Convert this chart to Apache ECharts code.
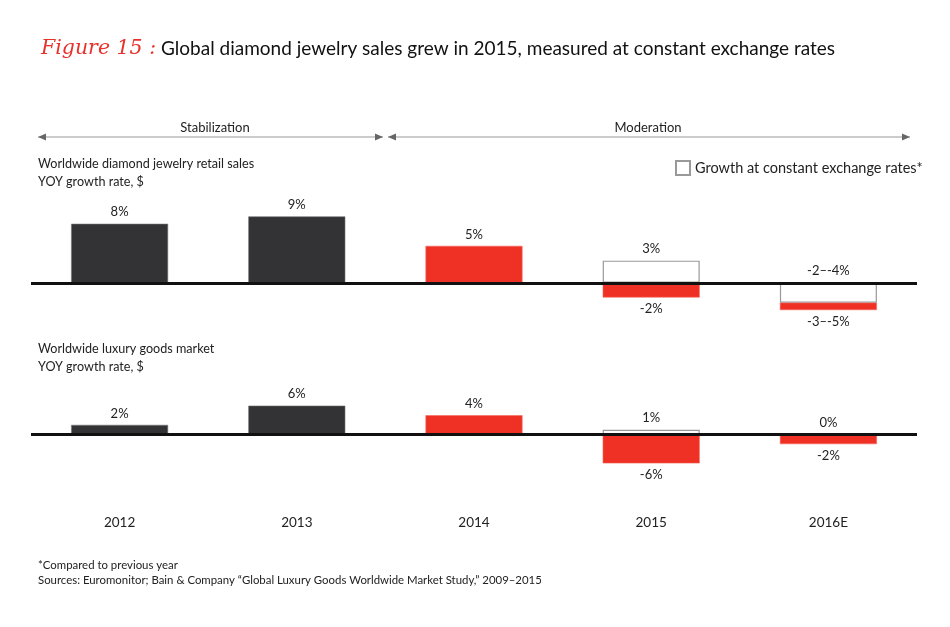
<!DOCTYPE html>
<html>
<head>
<meta charset="utf-8">
<script src="https://cdn.jsdelivr.net/npm/echarts@6/dist/echarts.min.js"></script>
<style>
  html, body { margin: 0; padding: 0; background: #fff; }
  #chart { width: 950px; height: 627px; }
</style>
</head>
<body>
<div id="chart"></div>
<script>
// data
var years = ['2012', '2013', '2014', '2015', '2016E'];

// top panel: diamond jewelry retail sales
var jewelryActual = [8, 9, 5, -2, -1];          // 2016E: band below the constant-rate bar
var jewelryBase = [0, 0, 0, 0, -2.7];           // invisible offset for the 2016E band
var jewelryConstant = [null, null, null, 3, -2.7];
var jewelryActualLabels = ['8%', '9%', '5%', '-2%', '-3–-5%'];
var jewelryConstantLabels = ['', '', '', '3%', '-2–-4%'];

// bottom panel: luxury goods market
var luxuryActual = [2, 6, 4, -6, -2];
var luxuryConstant = [null, null, null, 1, 0];
var luxuryActualLabels = ['2%', '6%', '4%', '-6%', '-2%'];
var luxuryConstantLabels = ['', '', '', '1%', '0%'];

var DARK = '#333335';
var RED = '#ee3124';
var FONT = 'Lato';

var myChart = echarts.init(document.getElementById('chart'));

// bar colour: first two years dark, the rest red
function actualItems(values, labels) {
    return values.map(function (v, i) {
        return {
            value: v,
            itemStyle: { color: i < 2 ? DARK : RED, borderColor: i < 2 ? '#777' : '#f5645a', borderWidth: 0.6 },
            label: { position: v < 0 || labels[i].charAt(0) === '-' ? 'bottom' : 'top' }
        };
    });
}

function labelFn(arr) {
    return function (p) { return arr[p.dataIndex]; };
}

var barLabel = { show: true, color: '#222', fontSize: 13, fontFamily: FONT, distance: 5 };
var zeroLine = {
    silent: true,
    symbol: ['none', 'none'],
    label: { show: false },
    lineStyle: { color: '#111', width: 3, type: 'solid' },
    data: [{ yAxis: 0 }]
};

// arrow head helper for the period brackets
function arrowHead(x, y, dir) {
    return {
        type: 'polygon',
        shape: { points: [[x, y], [x - dir * 8, y - 3.5], [x - dir * 8, y + 3.5]] },
        style: { fill: '#666' }
    };
}

var option = {
    backgroundColor: '#fff',
    animation: false,
    title: {
        left: 36,
        top: 34,
        text: '{fig|Figure 15 :} {main|Global diamond jewelry sales grew in 2015, measured at constant exchange rates}',
        textStyle: {
            fontWeight: 'normal',
            rich: {
                fig: { fontFamily: 'DejaVu Serif', fontStyle: 'italic', fontWeight: 'normal', fontSize: 20.5, color: '#e8312a' },
                main: { fontFamily: FONT, fontWeight: 'normal', fontSize: 19, color: '#111' }
            }
        }
    },
    legend: {
        left: 670,
        top: 155,
        itemWidth: 14,
        itemHeight: 14,
        itemGap: 8,
        icon: 'rect',
        data: ['Growth at constant exchange rates*'],
        textStyle: { fontFamily: FONT, fontSize: 14.5, color: '#222' }
    },
    grid: [
        { left: 31, right: 33, top: 209, height: 118 },
        { left: 31, right: 33, top: 396, height: 77 }
    ],
    xAxis: [
        { gridIndex: 0, type: 'category', data: years, axisLine: { show: false }, axisTick: { show: false }, axisLabel: { show: false } },
        {
            gridIndex: 1, type: 'category', data: years,
            axisLine: { show: false, onZero: false }, axisTick: { show: false },
            axisLabel: { margin: 43, fontFamily: FONT, fontSize: 13.5, color: '#222' }
        }
    ],
    yAxis: [
        { gridIndex: 0, type: 'value', min: -6, max: 10, show: false, splitLine: { show: false } },
        { gridIndex: 1, type: 'value', min: -8, max: 8, show: false, splitLine: { show: false } }
    ],
    series: [
        // top panel
        {
            name: 'Growth at constant exchange rates*',
            type: 'bar', xAxisIndex: 0, yAxisIndex: 0, z: 2,
            barWidth: 97, barGap: '-100%',
            data: jewelryConstant,
            itemStyle: { color: '#fff', borderColor: '#999', borderWidth: 1.2 },
            label: Object.assign({}, barLabel, { position: 'top', formatter: labelFn(jewelryConstantLabels) })
        },
        {
            name: 'base', type: 'bar', xAxisIndex: 0, yAxisIndex: 0, stack: 'top', z: 3,
            barWidth: 97, barGap: '-100%',
            data: jewelryBase,
            itemStyle: { color: 'transparent' }
        },
        {
            name: 'Actual', type: 'bar', xAxisIndex: 0, yAxisIndex: 0, stack: 'top', z: 3,
            barWidth: 97, barGap: '-100%',
            data: actualItems(jewelryActual, jewelryActualLabels),
            label: Object.assign({}, barLabel, { formatter: labelFn(jewelryActualLabels) }),
            markLine: zeroLine
        },
        // bottom panel
        {
            name: 'Growth at constant exchange rates*',
            type: 'bar', xAxisIndex: 1, yAxisIndex: 1, z: 2,
            barWidth: 97, barGap: '-100%',
            data: luxuryConstant,
            itemStyle: { color: '#fff', borderColor: '#999', borderWidth: 1.2 },
            label: Object.assign({}, barLabel, { position: 'top', formatter: labelFn(luxuryConstantLabels) })
        },
        {
            name: 'Actual2', type: 'bar', xAxisIndex: 1, yAxisIndex: 1, z: 3,
            barWidth: 97, barGap: '-100%',
            data: actualItems(luxuryActual, luxuryActualLabels),
            label: Object.assign({}, barLabel, { formatter: labelFn(luxuryActualLabels) }),
            markLine: zeroLine
        }
    ],
    graphic: [
        // period brackets
        { type: 'line', shape: { x1: 38, y1: 137, x2: 383, y2: 137 }, style: { stroke: '#999', lineWidth: 1.2 } },
        arrowHead(38, 137, -1),
        arrowHead(383, 137, 1),
        { type: 'line', shape: { x1: 388, y1: 137, x2: 910, y2: 137 }, style: { stroke: '#999', lineWidth: 1.2 } },
        arrowHead(388, 137, -1),
        arrowHead(910, 137, 1),
        { type: 'text', x: 215, y: 128, style: { text: 'Stabilization', font: '13px ' + FONT, fill: '#222', align: 'center', verticalAlign: 'middle' } },
        { type: 'text', x: 648, y: 128, style: { text: 'Moderation', font: '13px ' + FONT, fill: '#222', align: 'center', verticalAlign: 'middle' } },
        // panel titles
        { type: 'text', x: 38, y: 155, style: { text: 'Worldwide diamond jewelry retail sales\nYOY growth rate, $', font: '12.6px ' + FONT, fill: '#222', lineHeight: 18 } },
        { type: 'text', x: 38, y: 340, style: { text: 'Worldwide luxury goods market\nYOY growth rate, $', font: '12.6px ' + FONT, fill: '#222', lineHeight: 18 } },
        // footnotes
        { type: 'text', x: 38, y: 558, style: { text: '*Compared to previous year\nSources: Euromonitor; Bain & Company \u201cGlobal Luxury Goods Worldwide Market Study,\u201d 2009\u20132015', font: '11.4px ' + FONT, fill: '#222', lineHeight: 15 } }
    ]
};

myChart.setOption(option);
window.onresize = myChart.resize;
</script>
</body>
</html>
